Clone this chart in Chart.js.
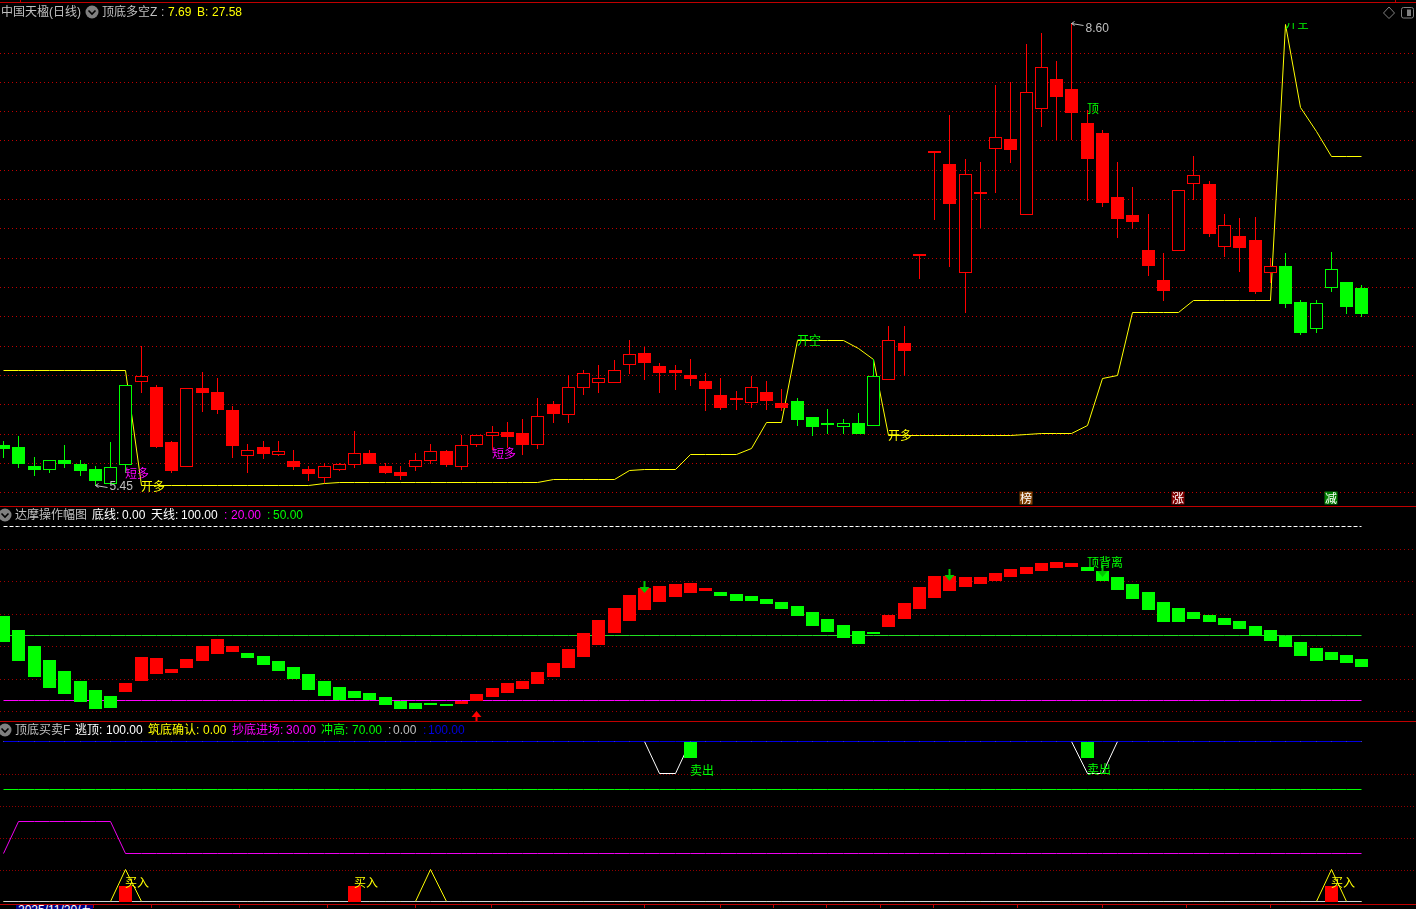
<!DOCTYPE html>
<html>
<head>
<meta charset="utf-8">
<style>
html,body{margin:0;padding:0;background:#000;width:1416px;height:909px;overflow:hidden}
canvas{position:absolute;left:0;display:block}
.t{position:absolute;white-space:pre;font:12px/16px "Liberation Sans","Noto Sans CJK SC",sans-serif}
.rule{position:absolute;left:0;width:1416px;height:1px;background:#c00000}
.tick{position:absolute;width:1px;background:#c00000}
</style>
</head>
<body>
<canvas id="priceChart" style="top:3px"></canvas>
<canvas id="swingChart" style="top:507px"></canvas>
<canvas id="signalChart" style="top:722px"></canvas>
<div id="chrome"></div>
<script src="https://cdn.jsdelivr.net/npm/chart.js@4/dist/chart.umd.min.js"></script>
<script>
// ---------- Panel 1: daily candles and the Z line ----------
const opens = [5.723,5.712,5.579,5.552,5.620,5.593,5.559,5.457,5.589,6.155,6.118,5.743,5.575,6.112,6.084,5.961,5.650,5.709,5.657,5.614,5.559,5.500,5.554,5.589,5.668,5.579,5.539,5.575,5.616,5.682,5.575,5.725,5.786,5.811,5.805,5.725,6.002,5.930,6.114,6.148,6.148,6.266,6.350,6.262,6.234,6.200,6.159,6.064,6.027,6.007,6.084,6.009,6.023,5.914,5.859,5.848,5.873,5.855,6.168,6.419,7.010,7.713,7.640,6.898,7.449,7.744,7.810,7.294,8.013,8.220,8.151,7.919,7.851,7.415,7.292,7.053,6.848,7.049,7.506,7.503,7.076,7.149,7.121,6.898,6.944,6.698,6.514,6.796,6.835,6.794];
const closes = [5.695,5.593,5.552,5.618,5.593,5.545,5.477,5.573,6.130,6.191,5.712,5.545,6.109,6.077,5.961,5.716,5.686,5.661,5.680,5.573,5.525,5.577,5.591,5.666,5.593,5.532,5.511,5.618,5.680,5.586,5.720,5.789,5.809,5.777,5.723,5.918,5.934,6.116,6.212,6.178,6.232,6.341,6.282,6.214,6.214,6.173,6.105,5.975,6.027,6.116,6.023,5.975,5.893,5.845,5.859,5.871,5.798,6.191,6.437,6.364,7.010,7.713,7.367,7.569,7.435,7.822,7.735,8.129,8.299,8.097,7.988,7.674,7.374,7.265,7.244,6.944,6.773,7.460,7.562,7.162,7.221,7.067,6.767,6.942,6.685,6.487,6.689,6.921,6.664,6.616];
const highs = [5.750,5.784,5.641,5.618,5.723,5.620,5.579,5.743,6.130,6.398,6.130,5.750,6.109,6.221,6.180,5.989,5.730,5.750,5.750,5.689,5.579,5.600,5.598,5.818,5.689,5.600,5.579,5.668,5.730,5.689,5.791,5.789,5.852,5.880,5.900,6.043,6.023,6.200,6.234,6.268,6.303,6.439,6.391,6.282,6.268,6.309,6.214,6.180,6.091,6.193,6.159,6.105,6.043,5.914,5.968,5.900,5.941,6.309,6.535,6.535,7.010,7.713,7.974,7.674,7.653,8.179,8.199,8.458,8.533,8.342,8.600,8.008,7.872,7.653,7.483,7.299,7.033,7.460,7.694,7.524,7.299,7.271,7.278,6.999,7.033,6.712,6.712,7.039,6.835,6.814];
const lows = [5.634,5.566,5.511,5.532,5.566,5.511,5.450,5.457,5.529,6.077,5.705,5.532,5.575,5.948,5.934,5.634,5.532,5.627,5.648,5.552,5.477,5.463,5.545,5.566,5.593,5.525,5.484,5.545,5.593,5.573,5.552,5.712,5.689,5.700,5.654,5.695,5.873,5.873,6.064,6.077,6.148,6.207,6.166,6.077,6.098,6.125,5.955,5.961,5.961,5.975,5.961,5.955,5.852,5.784,5.798,5.798,5.798,5.855,6.168,6.196,6.855,7.258,6.937,6.623,7.203,7.442,7.647,7.294,7.892,7.803,7.803,7.387,7.346,7.135,7.196,6.876,6.705,7.049,7.394,7.142,7.005,6.903,6.753,6.828,6.657,6.473,6.487,6.767,6.616,6.596];
const candleSignal = "GGGGGGGGGRRRRRRRRRRRRRRRRRRRRRRRRRRRRRRRRRRRRRRRRRRRGGGGGGRRRRRRRRRRRRRRRRRRRRRRRRRRGGGGGG";
const zLine = [6.230,6.230,6.230,6.230,6.230,6.230,6.230,6.230,6.230,5.448,5.448,5.448,5.448,5.448,5.448,5.448,5.448,5.448,5.448,5.448,5.448,5.460,5.468,5.468,5.468,5.468,5.468,5.468,5.468,5.468,5.468,5.468,5.468,5.468,5.468,5.468,5.489,5.489,5.489,5.489,5.489,5.550,5.557,5.557,5.557,5.659,5.659,5.659,5.659,5.700,5.877,5.877,6.437,6.437,6.437,6.437,6.382,6.307,5.789,5.789,5.789,5.789,5.789,5.789,5.789,5.789,5.789,5.796,5.804,5.804,5.804,5.859,6.173,6.198,6.628,6.628,6.628,6.628,6.710,6.710,6.710,6.710,6.710,6.710,8.588,8.028,7.860,7.692,7.692,7.692];
const priceGrid = [5.4,5.6,5.8,6.0,6.2,6.4,6.6,6.8,7.0,7.2,7.4,7.6,7.8,8.0,8.2,8.4];
const priceLabels = [[8,5.532,"短多","#ff00ff"],[9,5.446,"开多","#ffff00"],[32,5.668,"短多","#ff00ff"],[52,6.439,"开空","#00ff00"],[58,5.791,"开多","#ffff00"],[71,8.021,"顶","#00ff00"],[84,8.600,"开空","#00ff00",8.600]];
const priceExtremes = [[6,5.45,5.438,"5.45"],[70,8.60,8.56,"8.60"]];
const priceTags = [[67,5.358,"榜","#804000"],[77,5.358,"涨","#800000"],[87,5.358,"减","#008000"]];

// ---------- Panel 2: swing oscillator ----------
const swingOpen = [58.9,52.43,45.04,38.58,33.5,28.89,24.73,21.96,23.81,28.89,32.12,32.58,34.89,38.12,41.35,42.27,41.81,40.43,38.12,35.35,32.12,28.89,26.12,24.27,23.35,21.5,19.66,18.73,18.27,18.27,18.27,19.66,21.5,23.35,25.2,27.51,30.74,34.89,39.97,45.51,51.05,56.58,61.66,65.35,67.66,69.51,70.43,69.97,69.05,68.12,66.74,65.35,63.51,60.74,57.51,54.74,51.97,51.51,53.82,57.51,62.12,67.2,70.43,72.28,73.66,75.05,76.89,78.28,79.66,81.05,81.51,81.51,79.66,76.89,73.66,69.97,65.35,62.58,60.74,59.35,57.97,56.58,54.28,52.43,49.66,46.89,44.12,42.28,40.89,39.05];
const swingClose = [46.89,38.12,30.73,25.66,22.89,19.2,15.96,16.43,27.96,39.96,39.5,34.43,39.04,45.04,48.27,45.04,39.5,36.27,33.5,29.81,24.73,21.96,20.12,21.04,20.12,17.81,15.96,15.96,17.81,17.35,19.66,22.89,25.66,27.97,28.89,33.05,37.2,43.66,51.05,57.05,62.58,68.58,71.82,72.74,73.66,74.12,71.82,68.12,65.82,65.82,64.43,62.12,58.89,54.28,51.51,48.74,45.97,50.59,59.35,64.89,72.28,77.35,77.35,76.89,76.89,78.74,80.59,81.51,83.35,83.82,83.35,79.66,75.05,70.89,66.74,61.66,56.12,56.12,57.51,56.12,54.74,52.89,49.66,47.35,44.59,40.43,38.12,38.59,37.2,35.35];
const swingGrid = [15,30,45,60,75,90];
const swingLow = 20, swingMid = 50, swingTop = 100;
const swingArrowsDown = [[42,69.5],[62,75.05],[72,76.9]];
const swingArrowsUp = [[31,15.06]];
const swingLabels = [[71,83.8,"顶背离","#00ff00"]];

// ---------- Panel 3: top / bottom signals ----------
const escapeDips = [[43,80],[44,80],[71,80],[72,80]];
const buildPeaks = [8,28,87];
const buildPeakValue = 20;
const reboundHigh = [1,2,3,4,5,6,7];
const reboundHighValue = 50, reboundBase = 30;
const buyBars = [8,23,87];
const sellBars = [45,71];
const buyBarRange = [0,10], sellBarRange = [90,99.4];
const signalGrid = [20,40,60,80];
const signalLabels = [[8,12.2,"买入","#ffff00"],[23,12.2,"买入","#ffff00"],[87,12.2,"买入","#ffff00"],[45,82.2,"卖出","#00ff00"],[71,82.8,"卖出","#00ff00"]];

// ---------- Header texts ----------
const headerTexts = [
 [1,12,"中国天楹(日线)","#c0c0c0"],[102,12,"顶底多空Z","#c0c0c0"],[161,12,":","#c0c0c0"],[168,12,"7.69","#ffff00"],[197,12,"B:","#ffff00"],[212,12,"27.58","#ffff00"],
 [15,515,"达摩操作幅图","#c0c0c0"],[92,515,"底线:","#ffffff"],[122,515,"0.00","#ffffff"],[151,515,"天线:","#ffffff"],[181,515,"100.00","#ffffff"],[224,515,":","#ff00ff"],[231,515,"20.00","#ff00ff"],[267,515,":","#00ff00"],[273,515,"50.00","#00ff00"],
 [15,730,"顶底买卖F","#c0c0c0"],[75,730,"逃顶:","#ffffff"],[106,730,"100.00","#ffffff"],[148,730,"筑底确认:","#ffff00"],[203,730,"0.00","#ffff00"],[232,730,"抄底进场:","#ff00ff"],[286,730,"30.00","#ff00ff"],[321,730,"冲高:","#00ff00"],[352,730,"70.00","#00ff00"],[388,730,":","#c0c0c0"],[393,730,"0.00","#c0c0c0"],[423,730,":","#0000e0"],[428,730,"100.00","#0000e0"]
];
const dateLabel = "2025/11/20/五";
const axisTicks = [93,151,239,327,415,491,644,720,773,826,880,933,1017,1102,1186,1270];

// ---------- Helpers ----------
const RED="#ff0000", GREEN="#00ff00", YELLOW="#ffff00", MAGENTA="#ff00ff";
const N = opens.length;
const bars = Array.from({length:N},(_,i)=>i);
const xMin = -0.2438, xMax = 92.55;
const CJK = '12px "Noto Sans CJK SC","Liberation Sans",sans-serif';
const LAT = '12px "Liberation Sans",sans-serif';

function snapper(rounder){
  return function(scale){
    if(scale._snapped) return;
    scale._snapped = true;
    const f = scale.getPixelForValue;
    scale.getPixelForValue = function(v,i){ return rounder(f.call(this,v,i)); };
  };
}
const snapCenter = snapper(p=>Math.floor(p)+0.5);
const snapEdge = snapper(p=>Math.round(p));

function scales(min,max,grid,gridColor,dash){
  return {
    x:{type:"linear",display:false,offset:false,min:xMin,max:xMax,afterUpdate:snapCenter},
    y:{type:"linear",position:"left",min,max,afterUpdate:snapEdge,
       afterBuildTicks:s=>{s.ticks=grid.map(v=>({value:v}));},
       afterFit:s=>{s.width=0;},
       ticks:{display:false},
       border:{display:false,dash},
       grid:{color:gridColor,lineWidth:1,drawTicks:false}},
    yLine:{type:"linear",display:false,position:"left",min,max,afterUpdate:snapCenter}
  };
}
function lineSet(values,color,order,extra){
  return Object.assign({type:"line",xAxisID:"x",yAxisID:"yLine",data:values.map((v,i)=>({x:i,y:v})),
    borderColor:color,borderWidth:1,pointRadius:0,tension:0,fill:false,order},extra||{});
}
function barSet(data,colors,thickness,order,extra){
  return Object.assign({type:"bar",xAxisID:"x",yAxisID:"y",data,backgroundColor:colors,borderWidth:0,
    barThickness:thickness,grouped:false,inflateAmount:0,minBarLength:2,order},extra||{});
}
function baseOptions(sc){
  return {animation:false,responsive:false,devicePixelRatio:1,events:[],
    layout:{padding:0},scales:sc,
    plugins:{legend:{display:false},tooltip:{enabled:false}}};
}
function drawText(ctx,txt,x,y,color,font){
  ctx.fillStyle=color; ctx.font=font||CJK; ctx.textAlign="left"; ctx.textBaseline="middle";
  ctx.fillText(txt,x,y);
}
function labelPlugin(labels){
  return {id:"labels",afterDatasetsDraw(ch){
    const ctx=ch.ctx,sx=ch.scales.x,sy=ch.scales.y;
    labels.forEach(([i,v,txt,col,clipAt])=>{
      const x=sx.getPixelForValue(i)-0.5,y=sy.getPixelForValue(v);
      ctx.save();
      if(clipAt!==undefined){ctx.beginPath();ctx.rect(0,sy.getPixelForValue(clipAt),ch.width,ch.height);ctx.clip();}
      drawText(ctx,txt,x,y,col);
      ctx.restore();
    });
  }};
}
function extremePlugin(){
  return {id:"extremes",afterDatasetsDraw(ch){
    const ctx=ch.ctx,sx=ch.scales.x,sy=ch.scales.y;
    priceExtremes.forEach(([i,v,labelAt,txt])=>{
      const x=sx.getPixelForValue(i),y=sy.getPixelForValue(v)+0.5;
      ctx.save();ctx.strokeStyle="#c0c0c0";ctx.lineWidth=1;ctx.beginPath();
      ctx.moveTo(x+12,y+2);ctx.lineTo(x,y);ctx.moveTo(x,y);ctx.lineTo(x+3,y-2);ctx.moveTo(x,y);ctx.lineTo(x+3,y+2);ctx.stroke();
      drawText(ctx,txt,x+14,sy.getPixelForValue(labelAt),"#c0c0c0",LAT);
      ctx.restore();
    });
    priceTags.forEach(([i,v,txt,bg])=>{
      const x=sx.getPixelForValue(i)-0.5,y=sy.getPixelForValue(v);
      ctx.fillStyle=bg;ctx.fillRect(x-6.5,y-6.5,13,13);
      ctx.textAlign="center";ctx.textBaseline="middle";ctx.font=CJK;ctx.fillStyle="#ffffff";
      ctx.fillText(txt,x,y);
    });
  }};
}
function arrowPlugin(){
  return {id:"arrows",afterDatasetsDraw(ch){
    const ctx=ch.ctx,sx=ch.scales.x,sy=ch.scales.y;
    swingArrowsDown.forEach(([i,v])=>{
      const x=sx.getPixelForValue(i),y=sy.getPixelForValue(v);
      ctx.fillStyle="#00c800";ctx.fillRect(x-1,y-12,2,7);
      ctx.beginPath();ctx.moveTo(x-5,y-6);ctx.lineTo(x+5,y-6);ctx.lineTo(x,y);ctx.closePath();ctx.fill();
    });
    swingArrowsUp.forEach(([i,v])=>{
      const x=sx.getPixelForValue(i),y=sy.getPixelForValue(v);
      ctx.fillStyle=RED;ctx.fillRect(x-1,y+5,2,6);
      ctx.beginPath();ctx.moveTo(x-5,y+6);ctx.lineTo(x+5,y+6);ctx.lineTo(x,y);ctx.closePath();ctx.fill();
    });
  }};
}
function setup(id,h){const c=document.getElementById(id);c.width=1416;c.height=h;c.style.width="1416px";c.style.height=h+"px";return c;}

// ---------- Panel 1 ----------
const candleColor = candleSignal.split("").map(s=>s==="R"?RED:GREEN);
const isHollow = bars.map(i=>closes[i]>opens[i]);
new Chart(setup("priceChart",503),{
  type:"bar",
  data:{datasets:[
    lineSet(zLine,YELLOW,3),
    barSet(bars.map(i=>({x:i,y:[lows[i],highs[i]]})),candleColor,1,2,{minBarLength:0}),
    barSet(bars.map(i=>({x:i,y:[opens[i],closes[i]]})),bars.map(i=>isHollow[i]?"#000000":candleColor[i]),13,1,
      {borderColor:candleColor,borderWidth:bars.map(i=>isHollow[i]?1:0),borderSkipped:false})
  ]},
  options:baseOptions(scales(5.3065,8.7377,priceGrid,"#c00000",[1,3])),
  plugins:[labelPlugin(priceLabels),extremePlugin()]
});

// ---------- Panel 2 ----------
const constant = v=>bars.map(()=>v);
new Chart(setup("swingChart",214),{
  type:"bar",
  data:{datasets:[
    lineSet(constant(swingTop),"#ffffff",4,{borderDash:[4,2]}),
    lineSet(constant(swingMid),"#20e020",4),
    lineSet(constant(swingLow),MAGENTA,4),
    barSet(bars.map(i=>({x:i,y:[swingOpen[i],swingClose[i]]})),bars.map(i=>swingClose[i]>swingOpen[i]?RED:GREEN),13,1)
  ]},
  options:baseOptions(scales(10.43,109.2,swingGrid,"#a00000",[1,3])),
  plugins:[arrowPlugin(),labelPlugin(swingLabels)]
});

// ---------- Panel 3 ----------
const escapeLine = constant(100); escapeDips.forEach(([i,v])=>{escapeLine[i]=v;});
const buildLine = constant(0); buildPeaks.forEach(i=>{buildLine[i]=buildPeakValue;});
const reboundLine = constant(reboundBase); reboundHigh.forEach(i=>{reboundLine[i]=reboundHighValue;});
new Chart(setup("signalChart",182),{
  type:"bar",
  data:{datasets:[
    lineSet(constant(100),"#0000e0",2),
    lineSet(constant(70),GREEN,3),
    lineSet(constant(0),"#d0d0d0",2),
    lineSet(escapeLine,"#ffffff",3),
    lineSet(buildLine,YELLOW,3),
    lineSet(reboundLine,"#f000f0",3),
    barSet(buyBars.map(i=>({x:i,y:buyBarRange})),RED,13,1),
    barSet(sellBars.map(i=>({x:i,y:sellBarRange})),GREEN,13,1)
  ]},
  options:baseOptions(scales(-1.56,112.2,signalGrid,"#900000",[1,2])),
  plugins:[labelPlugin(signalLabels)]
});

// ---------- Page chrome ----------
const chrome=document.getElementById("chrome");
let html="";
[2,506,721,904].forEach(y=>{html+=`<div class="rule" style="top:${y}px"></div>`;});
html+=`<div class="tick" style="left:20px;top:0;height:2px"></div><div class="tick" style="left:1395px;top:0;height:2px"></div>`;
axisTicks.forEach(x=>{html+=`<div class="tick" style="left:${x}px;top:905px;height:3px"></div>`;});
headerTexts.forEach(([x,y,txt,col])=>{
  html+=`<div class="t" style="left:${x}px;top:${y-8}px;color:${col}">${txt}</div>`;
});
[[92,12],[5,515],[5,730]].forEach(([cx,cy])=>{
  html+=`<svg style="position:absolute;left:${cx-7}px;top:${cy-7}px" width="14" height="14"><circle cx="7" cy="7" r="6.5" fill="#808080"/><path d="M3.5 5.5 L7 9 L10.5 5.5" stroke="#000" stroke-width="1.6" fill="none"/></svg>`;
});
html+=`<svg style="position:absolute;left:1382px;top:6px" width="32" height="14"><path d="M7 1 L12.5 7 L7 12.5 L1.5 7 Z" fill="none" stroke="#808080"/><rect x="19.5" y="1.5" width="12" height="10.5" rx="2" fill="none" stroke="#808080"/><rect x="25" y="3.5" width="4" height="6.5" fill="#808080"/></svg>`;
html+=`<div style="position:absolute;left:16px;top:905px;width:77px;height:4px;background:#000080;overflow:hidden"><div class="t" style="left:2px;top:-1px;color:#fff;line-height:13px">${dateLabel}</div></div>`;
chrome.innerHTML=html;
</script>
</body>
</html>
